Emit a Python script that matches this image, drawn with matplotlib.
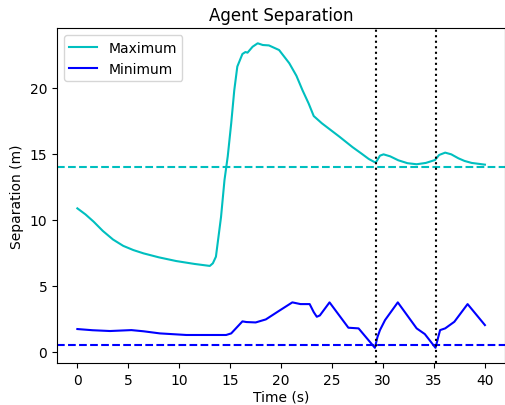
import numpy as np
import matplotlib
matplotlib.use('Agg')
from matplotlib import pyplot as plt

# values
t_max = [0, 0.8, 1.6, 2.5, 3.5, 4.5, 5.5, 6.5, 8.0, 9.7, 11.5, 13.0, 13.3, 13.6, 14.1, 14.44,
         14.76, 15.1, 15.4, 15.7, 16.2, 16.5, 16.7, 17.2, 17.7, 18.2, 18.8, 19.8, 20.8, 21.5,
         22.1, 22.7, 23.2, 24.0, 25.7, 27.0, 27.9, 28.6, 29.2, 29.35, 29.7, 30.05, 30.7, 31.5,
         32.4, 33.3, 34.2, 35.1, 35.5, 36.1, 36.7, 37.4, 38.0, 38.7, 40.0]
sep_max = [10.86, 10.4, 9.85, 9.15, 8.5, 8.02, 7.7, 7.45, 7.15, 6.87, 6.65, 6.5, 6.7, 7.2, 10.2, 13.0,
           14.8, 17.3, 19.8, 21.6, 22.55, 22.7, 22.65, 23.1, 23.36, 23.23, 23.2, 22.85, 21.85, 20.9,
           19.8, 18.8, 17.85, 17.3, 16.3, 15.5, 15.0, 14.6, 14.35, 14.4, 14.85, 14.95, 14.8, 14.5,
           14.28, 14.2, 14.3, 14.52, 14.9, 15.08, 14.95, 14.65, 14.45, 14.3, 14.17]

t_min = [0, 1.5, 3.2, 5.3, 6.5, 8.1, 10.7, 14.6, 15.1, 16.2, 16.6, 17.5, 18.5, 19.8, 21.1, 21.9,
         22.8, 23.2, 23.5, 23.8, 24.75, 26.6, 27.6, 29.2, 29.45, 29.7, 30.2, 31.45, 33.3, 34.1,
         35.15, 35.6, 36.1, 37.0, 38.3, 40.0]
sep_min = [1.72, 1.63, 1.57, 1.64, 1.55, 1.39, 1.27, 1.27, 1.39, 2.3, 2.25, 2.22, 2.45, 3.1, 3.74, 3.61,
           3.61, 3.0, 2.65, 2.75, 3.74, 1.82, 1.77, 0.3, 1.1, 1.64, 2.4, 3.74, 1.77, 1.34,
           0.3, 1.64, 1.77, 2.27, 3.61, 2.02]

max_limit = 14.0
min_limit = 0.5
events = [29.35, 35.2]

fig = plt.figure(figsize=(5.06, 4.06), dpi=100)
ax = fig.add_axes([0.1126, 0.1034, 0.886, 0.825])

ax.plot(t_max, sep_max, color='c', label='Maximum')
ax.plot(t_min, sep_min, color='b', label='Minimum')
ax.axhline(max_limit, color='c', linestyle='--')
ax.axhline(min_limit, color='b', linestyle='--')
for e in events:
    ax.axvline(e, color='k', linestyle=':')

ax.set_title('Agent Separation')
ax.set_xlabel('Time (s)', labelpad=2)
ax.set_ylabel('Separation (m)')
ax.set_yticks([0, 5, 10, 15, 20])
ax.legend(loc='upper left')

plt.savefig('out.png', dpi=100)
